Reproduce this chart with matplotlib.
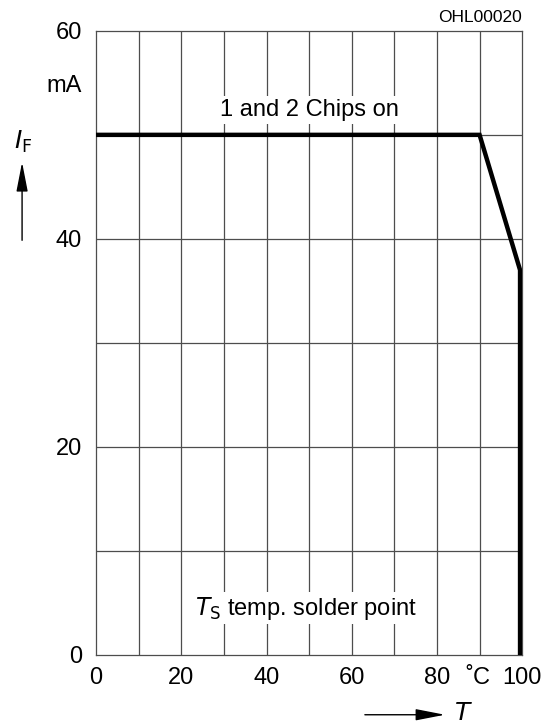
import matplotlib
matplotlib.use('Agg')
import matplotlib.pyplot as plt
import numpy as np

plt.rcParams['font.family'] = ['Liberation Sans', 'DejaVu Sans']

# derating curve
temp = [0, 90, 99.5, 99.5]
current = [50, 50, 37, 0]

xticks = [0, 20, 40, 60, 80, 89.5, 100]
xticklabels = ['0', '20', '40', '60', '80', '˚C', '100']
yticks = [0, 20, 40, 60]

fig = plt.figure(figsize=(5.52, 7.26), dpi=100)
ax = fig.add_axes([0.174, 0.098, 0.772, 0.8595])

ax.set_xlim(0, 100)
ax.set_ylim(0, 60)
for v in np.arange(10, 100, 10):
    ax.axvline(v, color='#4d4d4d', lw=0.9, zorder=1)
for v in np.arange(10, 60, 10):
    ax.axhline(v, color='#4d4d4d', lw=0.9, zorder=1)
for s in ax.spines.values():
    s.set_color('#4d4d4d')
    s.set_linewidth(0.9)

ax.plot(temp, current, color='black', lw=3.2, solid_joinstyle='miter', zorder=3)

ax.set_xticks(xticks)
ax.set_xticklabels(xticklabels)
ax.set_yticks(yticks)
ax.tick_params(length=0, labelsize=17)
ax.tick_params(axis='x', pad=9)
ax.tick_params(axis='y', pad=10)

ax.text(-3.3, 54.7, 'mA', ha='right', va='center', fontsize=17)

ax.text(50.0, 52.4, '1 and 2 Chips on', ha='center', va='center', fontsize=17,
        bbox=dict(facecolor='white', edgecolor='none', pad=2), zorder=4)
ax.text(49.3, 4.5, r'$T_{\mathrm{S}}$ temp. solder point', ha='center', va='center', fontsize=17,
        bbox=dict(facecolor='white', edgecolor='none', pad=2), zorder=4)

fig.text(0.946, 0.976, 'OHL00020', ha='right', va='center', fontsize=12.5)

# axis labels with arrows
fig.text(0.042, 0.805, r'$I_{\mathrm{F}}$', ha='center', va='center', fontsize=18)
fig.add_artist(matplotlib.patches.FancyArrowPatch((0.04, 0.669), (0.04, 0.7765),
               transform=fig.transFigure, arrowstyle='-|>,head_length=18,head_width=3.5',
               color='black', lw=1, shrinkA=0, shrinkB=0))
fig.text(0.839, 0.018, r'$T$', ha='center', va='center', fontsize=18)
fig.add_artist(matplotlib.patches.FancyArrowPatch((0.661, 0.0155), (0.806, 0.0155),
               transform=fig.transFigure, arrowstyle='-|>,head_length=18,head_width=3.5',
               color='black', lw=1, shrinkA=0, shrinkB=0))

plt.savefig('out.png', dpi=100)
